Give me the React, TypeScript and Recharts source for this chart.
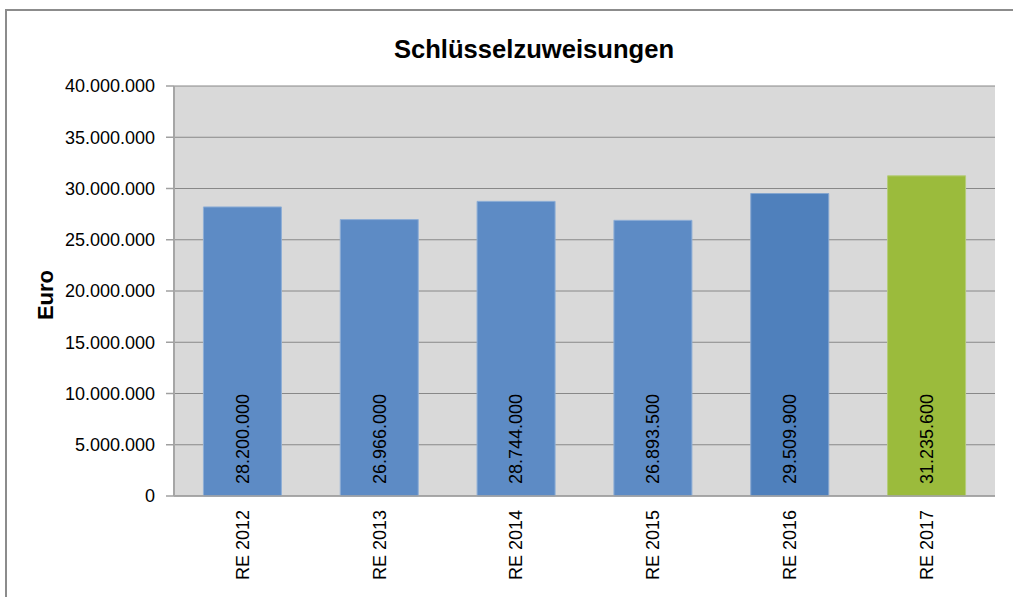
import { BarChart, Bar, XAxis, YAxis, CartesianGrid, Cell, LabelList } from 'recharts';

const categories = ['RE 2012', 'RE 2013', 'RE 2014', 'RE 2015', 'RE 2016', 'RE 2017'];
const values = [28200000, 26966000, 28744000, 26893500, 29509900, 31235600];
const barColors = ['#5d8bc5', '#5d8bc5', '#5d8bc5', '#5d8bc5', '#4f80bc', '#9bbb3c'];
const barStrokes = ['#8eaed6', '#8eaed6', '#8eaed6', '#8eaed6', '#86a6d0', '#b5cc78'];
const yTicks = [0, 5000000, 10000000, 15000000, 20000000, 25000000, 30000000, 35000000, 40000000];
const edgeTicks = [0, 1, 2, 3, 4, 5, 6];

const FONT = "Arial, 'Liberation Sans', sans-serif";

function formatDE(v: number) {
  return String(Math.round(v)).replace(/\B(?=(\d{3})+(?!\d))/g, '.');
}

const chartData = categories.map((c, i) => ({ name: c, value: values[i] }));

function CategoryTick({ x, y, payload }: any) {
  return (
    <text
      x={0}
      y={0}
      dy="0.35em"
      textAnchor="end"
      transform={`translate(${x},${y + 6}) rotate(-90)`}
      fontSize={18}
      fontFamily={FONT}
      fill="#000"
    >
      {payload.value}
    </text>
  );
}

function ValueLabel({ x, y, width, height, value }: any) {
  const cx = x + width / 2;
  const by = y + height - 12;
  return (
    <text
      x={0}
      y={0}
      dy="0.35em"
      textAnchor="start"
      transform={`translate(${cx},${by}) rotate(-90)`}
      fontSize={18}
      fontFamily={FONT}
      fill="#000"
    >
      {formatDE(value)}
    </text>
  );
}

function EuroLabel({ viewBox }: any) {
  const cx = viewBox.x + 31;
  const cy = viewBox.y + viewBox.height / 2 + 4;
  return (
    <text
      x={0}
      y={0}
      dy="0.35em"
      textAnchor="middle"
      transform={`translate(${cx},${cy}) rotate(-90)`}
      fontSize={22}
      fontWeight="bold"
      fontFamily={FONT}
      fill="#000"
    >
      Euro
    </text>
  );
}

export default function App() {
  return (
    <div style={{ position: 'absolute', left: 0, top: 0, width: 1013, height: 597, background: '#fff', overflow: 'hidden' }}>
      <div
        style={{
          position: 'absolute',
          left: 5,
          top: 9,
          width: 1020,
          height: 600,
          borderLeft: '2px solid #8c8c8c',
          borderTop: '2px solid #8c8c8c',
        }}
      />
      <div
        style={{
          position: 'absolute',
          left: 0,
          top: 34,
          width: 1068,
          textAlign: 'center',
          fontFamily: FONT,
          fontWeight: 'bold',
          fontSize: 25.6,
          lineHeight: '30px',
          color: '#000',
        }}
      >
        Schlüsselzuweisungen
      </div>
      <div style={{ position: 'absolute', left: 0, top: 0 }}>
        <BarChart
          width={1013}
          height={597}
          data={chartData}
          margin={{ top: 86, right: 18, left: 14, bottom: 0 }}
          barCategoryGap="21.5%"
        >
          <CartesianGrid vertical={false} stroke="#888" fill="#d9d9d9" fillOpacity={1} />
          <XAxis
            xAxisId="b"
            dataKey="name"
            height={93}
            axisLine={false}
            tickLine={false}
            tickSize={0}
            tickMargin={0}
            interval={0}
            tick={<CategoryTick />}
          />
          <XAxis
            xAxisId="a"
            type="number"
            domain={[0, 6]}
            ticks={edgeTicks}
            tick={false}
            tickSize={7}
            height={8}
            allowDataOverflow
            axisLine={{ stroke: '#a0a0a0', strokeWidth: 1.5 }}
            tickLine={{ stroke: '#a0a0a0', strokeWidth: 1.5 }}
          />
          <YAxis
            width={160}
            domain={[0, 40000000]}
            ticks={yTicks}
            interval={0}
            tickFormatter={formatDE}
            tickSize={8}
            tickMargin={11}
            tick={{ fontSize: 18, fontFamily: FONT, fill: '#000' }}
            axisLine={{ stroke: '#a6a6a6', strokeWidth: 2 }}
            tickLine={{ stroke: '#a0a0a0', strokeWidth: 1.5 }}
            label={<EuroLabel />}
          />
          <Bar dataKey="value" xAxisId="b" isAnimationActive={false}>
            {chartData.map((d, i) => (
              <Cell key={d.name} fill={barColors[i]} stroke={barStrokes[i]} strokeWidth={1} />
            ))}
            <LabelList dataKey="value" content={<ValueLabel />} />
          </Bar>
        </BarChart>
      </div>
    </div>
  );
}
